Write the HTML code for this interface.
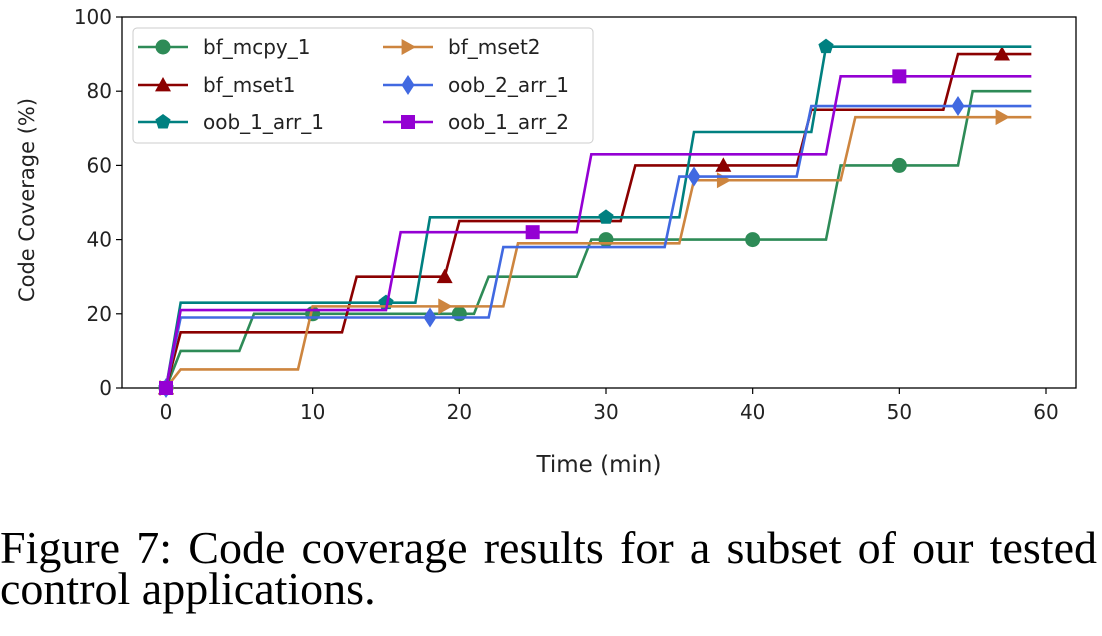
<!DOCTYPE html>
<html><head><meta charset="utf-8"><style>
html,body{margin:0;padding:0;background:#fff;}
svg{display:block;}
.cap{position:absolute;left:0;font-family:"Liberation Serif",serif;font-size:46px;line-height:46px;color:#000;white-space:nowrap;}
</style></head><body>
<div style="position:relative;width:1102px;height:636px;overflow:hidden">
<svg id="chart" width="1102" height="500" xmlns="http://www.w3.org/2000/svg" font-family="DejaVu Sans, sans-serif"></svg>
<div class="cap" style="top:525px;width:1097px;text-align:justify;text-align-last:justify">Figure 7: Code coverage results for a subset of our tested</div>
<div class="cap" style="top:566px">control applications.</div>
</div>
<script>
const seriesNames = ["bf_mcpy_1","bf_mset1","oob_1_arr_1","bf_mset2","oob_2_arr_1","oob_1_arr_2"];
const bf_mcpy_1 = [0,10,10,10,10,10,20,20,20,20,20,20,20,20,20,20,20,20,20,20,20,20,30,30,30,30,30,30,30,40,40,40,40,40,40,40,40,40,40,40,40,40,40,40,40,40,60,60,60,60,60,60,60,60,60,80,80,80,80,80];
const bf_mset1 = [0,15,15,15,15,15,15,15,15,15,15,15,15,30,30,30,30,30,30,30,45,45,45,45,45,45,45,45,45,45,45,45,60,60,60,60,60,60,60,60,60,60,60,60,75,75,75,75,75,75,75,75,75,75,90,90,90,90,90,90];
const oob_1_arr_1 = [0,23,23,23,23,23,23,23,23,23,23,23,23,23,23,23,23,23,46,46,46,46,46,46,46,46,46,46,46,46,46,46,46,46,46,46,69,69,69,69,69,69,69,69,69,92,92,92,92,92,92,92,92,92,92,92,92,92,92,92];
const bf_mset2 = [0,5,5,5,5,5,5,5,5,5,22,22,22,22,22,22,22,22,22,22,22,22,22,22,39,39,39,39,39,39,39,39,39,39,39,39,56,56,56,56,56,56,56,56,56,56,56,73,73,73,73,73,73,73,73,73,73,73,73,73];
const oob_2_arr_1 = [0,19,19,19,19,19,19,19,19,19,19,19,19,19,19,19,19,19,19,19,19,19,19,38,38,38,38,38,38,38,38,38,38,38,38,57,57,57,57,57,57,57,57,57,76,76,76,76,76,76,76,76,76,76,76,76,76,76,76,76];
const oob_1_arr_2 = [0,21,21,21,21,21,21,21,21,21,21,21,21,21,21,21,42,42,42,42,42,42,42,42,42,42,42,42,42,63,63,63,63,63,63,63,63,63,63,63,63,63,63,63,63,63,84,84,84,84,84,84,84,84,84,84,84,84,84,84];
const markEvery = [10,19,15,19,18,25];
const xTicks = [0,10,20,30,40,50,60];
const yTicks = [0,20,40,60,80,100];

const colors = ["#2e8b57","#8b0000","#008080","#cd853f","#4169e1","#9400d3"];
const markers = ["circle","triangle","pentagon","right","diamond","square"];
const allSeries = [bf_mcpy_1,bf_mset1,oob_1_arr_1,bf_mset2,oob_2_arr_1,oob_1_arr_2];
const L=122,R=1076,T=17,B=388;
const xs = t => 166 + t*(1046-166)/60;
const ys = v => 388 - v*(388-17)/100;
const svg = document.getElementById('chart');
const NS="http://www.w3.org/2000/svg";
function mk(tag, attrs){const e=document.createElementNS(NS,tag);for(const k in attrs)e.setAttribute(k,attrs[k]);svg.appendChild(e);return e;}
function marker(type,cx,cy,col){
  let e,s=8;
  if(type==="circle") e=mk('circle',{cx:cx,cy:cy,r:7.5,fill:col});
  else if(type==="square") e=mk('rect',{x:cx-7,y:cy-7,width:14,height:14,fill:col});
  else {
    let p;
    if(type==="triangle") p=[[cx,cy-s],[cx+s,cy+s*0.8],[cx-s,cy+s*0.8]];
    else if(type==="right") p=[[cx+s,cy],[cx-s*0.8,cy-s],[cx-s*0.8,cy+s]];
    else if(type==="diamond") p=[[cx,cy-10],[cx+6.5,cy],[cx,cy+10],[cx-6.5,cy]];
    else {p=[];for(let i=0;i<5;i++){const a=-Math.PI/2+i*2*Math.PI/5;p.push([cx+8*Math.cos(a),cy+8*Math.sin(a)]);}}
    e=mk('polygon',{points:p.map(q=>q.join(',')).join(' '),fill:col});
  }
  return e;
}
const frame=mk('rect',{x:L,y:T,width:R-L,height:B-T,fill:'none',stroke:'#000','stroke-width':1.3});


xTicks.forEach(t=>{
  const ln=mk('line',{x1:xs(t),x2:xs(t),y1:B,y2:B+6,stroke:'#000','stroke-width':1.2});
  
  
  const tx=mk('text',{x:xs(t),y:B+31,'text-anchor':'middle','font-size':20,fill:'#222'});
  tx.textContent=t;
  
  
});
yTicks.forEach(v=>{
  const ln=mk('line',{x1:L-6,x2:L,y1:ys(v),y2:ys(v),stroke:'#000','stroke-width':1.2});
  
  
  const tx=mk('text',{x:L-10,y:ys(v)+7,'text-anchor':'end','font-size':20,fill:'#222'});
  tx.textContent=v;
  
  
});
const xl=mk('text',{x:(L+R)/2,y:472,'text-anchor':'middle','font-size':23,fill:'#222'});
xl.textContent='Time (min)';


const yl=mk('text',{x:0,y:0,'text-anchor':'middle','font-size':21,fill:'#222',transform:'translate(34,200) rotate(-90)'});
yl.textContent='Code Coverage (%)';


allSeries.forEach((vals,si)=>{
  const col=colors[si];
  const pts=vals.map((v,i)=>xs(i)+','+ys(v)).join(' ');
  const pl=mk('polyline',{points:pts,fill:'none',stroke:col,'stroke-width':2.6,'stroke-linejoin':'miter'});
  
  
  for(let i=0;i<vals.length;i+=markEvery[si]){
    const m=marker(markers[si],xs(i),ys(vals[i]),col);
    
    
  }
});
const lg=mk('rect',{x:133,y:28,width:460,height:115,rx:4,fill:'#fff','fill-opacity':0.85,stroke:'#ccc','stroke-width':1});


seriesNames.forEach((n,si)=>{
  const c=Math.floor(si/3), r=si%3;
  const x0=c?383:138, y0=[47,85,122][r];
  const ln=mk('line',{x1:x0,x2:x0+50,y1:y0,y2:y0,stroke:colors[si],'stroke-width':2.6});
  
  
  const m=marker(markers[si],x0+25,y0,colors[si]);
  
  
  const tx=mk('text',{x:x0+65,y:y0+7,'font-size':20,fill:'#222'});
  tx.textContent=n;
  
  
});
</script>
</body></html>
